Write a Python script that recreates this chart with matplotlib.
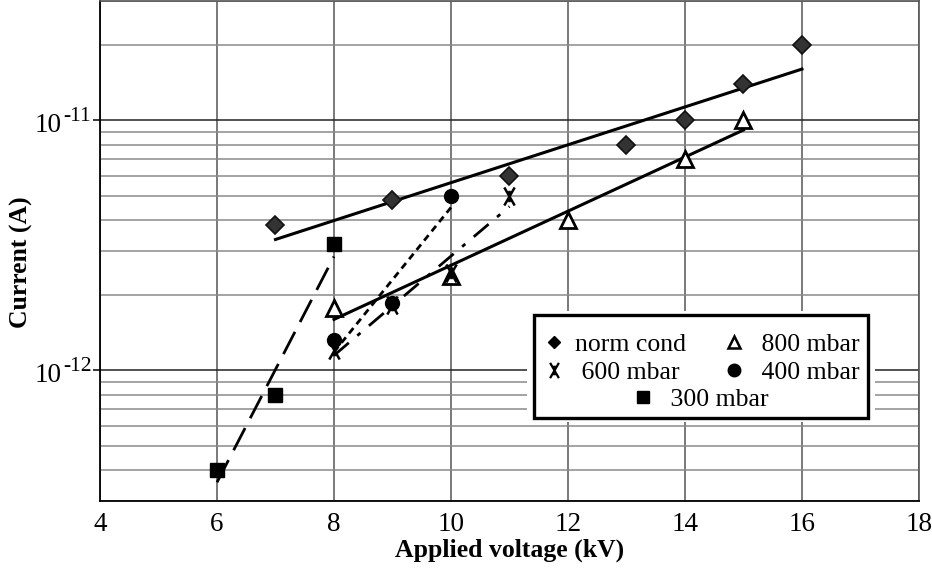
import numpy as np
import matplotlib
matplotlib.use("Agg")
import matplotlib.pyplot as plt
from matplotlib.lines import Line2D
from matplotlib.patches import Rectangle
from matplotlib.path import Path
from matplotlib.ticker import LogLocator, FixedLocator, NullFormatter

plt.rcParams['font.family'] = ['Liberation Serif', 'DejaVu Serif']

# measured current vs applied voltage
v_norm = [7, 9, 11, 13, 14, 15, 16]
i_norm = [3.8e-12, 4.8e-12, 6.0e-12, 8.0e-12, 1.0e-11, 1.4e-11, 2.0e-11]

v_800 = [8, 10, 12, 14, 15]
i_800 = [1.78e-12, 2.38e-12, 4.0e-12, 7.0e-12, 1.0e-11]

v_600 = [8, 9, 10, 11]
i_600 = [1.2e-12, 1.83e-12, 2.45e-12, 5.0e-12]

v_400 = [8, 9, 10]
i_400 = [1.32e-12, 1.85e-12, 5.0e-12]

v_300 = [6, 7, 8]
i_300 = [4.0e-13, 8.0e-13, 3.2e-12]

y_labelled = [1e-12, 1e-11]
y_exponents = ['-12', '-11']

# asterisk marker: two steep diagonals plus a short vertical stroke
ast_verts = [(-0.5, -0.87), (0.5, 0.87), (-0.5, 0.87), (0.5, -0.87), (0, -0.55), (0, 0.55)]
ast_codes = [Path.MOVETO, Path.LINETO] * 3
asterisk = Path(ast_verts, ast_codes)


def exp_fit(v, i):
    # straight line in log10(I) vs V
    p = np.polyfit(v, np.log10(i), 1)
    xs = np.array([min(v), max(v)])
    return xs, 10 ** np.polyval(p, xs)


fig = plt.figure(figsize=(9.32, 5.69), dpi=100)
ax = fig.add_axes([0.1073, 0.1195, 0.8787, 0.8787])

ax.set_yscale('log')
ax.set_xlim(4, 18)
ax.set_ylim(3e-13, 3e-11)

# fitted trend lines
fx, fy = exp_fit(v_norm, i_norm)
ax.plot(fx, fy, color='black', lw=2.2, zorder=3)
fx, fy = exp_fit(v_800, i_800)
ax.plot(fx, fy, color='black', lw=2.2, zorder=3)
fx, fy = exp_fit(v_600, i_600)
ax.plot(fx, fy, color='black', lw=2.0, dashes=(7, 4, 1.5, 4), zorder=3)
fx, fy = exp_fit(v_400, i_400)
ax.plot(fx, fy, color='black', lw=2.0, dashes=(2.5, 1.8), zorder=3)
fx, fy = exp_fit(v_300, i_300)
ax.plot(fx, fy, color='black', lw=2.0, dashes=(9, 4), zorder=3)

# data points
ax.plot(v_norm, i_norm, ls='none', marker='D', ms=8.8, mfc='#333333', mec='#111111', mew=1.2, zorder=4)
ax.plot(v_800, i_800, ls='none', marker='^', ms=11, mfc='white', mec='black', mew=2, zorder=4)
ax.plot(v_600, i_600, ls='none', marker=asterisk, ms=13, mec='black', mew=1.8, zorder=4)
ax.plot(v_400, i_400, ls='none', marker='o', ms=10, mfc='black', mec='black', zorder=4)
ax.plot(v_300, i_300, ls='none', marker='s', ms=9.5, mfc='black', mec='black', zorder=4)

# ticks and grid
ax.set_xticks(np.arange(4, 19, 2))
ax.xaxis.set_minor_locator(FixedLocator(np.arange(5, 18, 1)))
ax.yaxis.set_major_locator(FixedLocator(y_labelled))
ax.yaxis.set_major_formatter(NullFormatter())
ax.yaxis.set_minor_locator(LogLocator(base=10, subs=np.arange(2, 10), numticks=20))
ax.yaxis.set_minor_formatter(NullFormatter())
ax.grid(True, which='major', axis='x', color='#555555', lw=1.1)
ax.grid(True, which='major', axis='y', color='#222222', lw=1.1)
ax.grid(True, which='minor', axis='y', color='#8a8a8a', lw=1.1)
ax.set_axisbelow(True)
ax.tick_params(axis='x', which='both', length=0, pad=8, labelsize=19.5)
ax.tick_params(axis='y', which='major', length=5, width=1.1)
ax.tick_params(axis='y', which='minor', length=0)

# power-of-ten labels with a plain hyphen in the exponent
for val, ex in zip(y_labelled, y_exponents):
    ax.annotate('10', xy=(0, val), xycoords=('axes fraction', 'data'),
                xytext=(-38, -12), textcoords='offset pixels',
                ha='right', va='baseline', fontsize=19.5)
    ax.annotate(ex, xy=(0, val), xycoords=('axes fraction', 'data'),
                xytext=(-37, -1), textcoords='offset pixels',
                ha='left', va='baseline', fontsize=15.5)

for side in ['top', 'right']:
    ax.spines[side].set_color('#555555')
    ax.spines[side].set_linewidth(1.2)
for side in ['left', 'bottom']:
    ax.spines[side].set_color('black')
    ax.spines[side].set_linewidth(1.3)

ax.set_xlabel('Applied voltage (kV)', fontsize=18.5, fontweight='bold', labelpad=1)
ax.set_ylabel('Current (A)', fontsize=18.5, fontweight='bold')
ax.yaxis.set_label_coords(-0.082, 0.478)

# legend: framed box, two columns plus a centred last entry
ax.add_patch(Rectangle((0.522, 0.158), 0.424, 0.222, transform=ax.transAxes,
                       facecolor='white', edgecolor='none', zorder=5))
ax.add_patch(Rectangle((0.530, 0.166), 0.408, 0.206, transform=ax.transAxes,
                       facecolor='white', edgecolor='black', lw=2.4, zorder=5))

h_norm = Line2D([], [], ls='none', marker='D', ms=6.5, mfc='black', mec='black')
h_600 = Line2D([], [], ls='none', marker=asterisk, ms=11, mec='black', mew=1.6)
h_800 = Line2D([], [], ls='none', marker='^', ms=9, mfc='white', mec='black', mew=1.8)
h_400 = Line2D([], [], ls='none', marker='o', ms=9, mfc='black', mec='black')
h_300 = Line2D([], [], ls='none', marker='s', ms=8.5, mfc='black', mec='black')

leg_kw = dict(frameon=False, fontsize=18.5, loc='upper left', handlelength=0.8,
              handletextpad=0.4, borderpad=0.2)
leg1 = ax.legend([h_norm, h_600, h_800, h_400],
                 ['norm cond', ' 600 mbar', ' 800 mbar', ' 400 mbar'],
                 ncol=2, bbox_to_anchor=(0.520, 0.372), columnspacing=1.5,
                 labelspacing=0.18, **leg_kw)
leg1.set_zorder(6)
ax.add_artist(leg1)
leg2 = ax.legend([h_300], [' 300 mbar'], bbox_to_anchor=(0.629, 0.261), **leg_kw)
leg2.set_zorder(6)

fig.savefig('out.png', dpi=100)
